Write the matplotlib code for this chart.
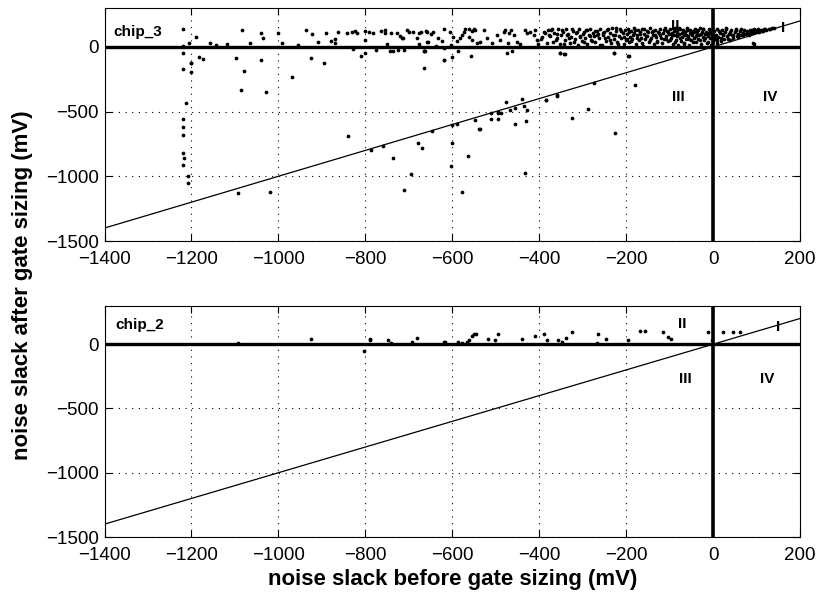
import matplotlib
matplotlib.use("Agg")
import matplotlib.pyplot as plt

plt.rcParams['font.family'] = ['Liberation Sans', 'DejaVu Sans']

# ---- data: chip_3 (top panel) ----
chip3_x = [
    # sparse, below zero (left side)
    -1219, -1202, -1219, -1202, -1212, -1219, -1220, -1220, -1220, -1216, -1220, -1207, -1209,
    -1201, -1183, -1174, -1098, -1080, -1085, -1041, -1028, -969, -926, -894, -1093, -1019,
    -839, -788, -759, -736, -679, -669, -696, -711, -646, -810, -800, -775, -744, -737, -664,
    -666, -618, -829, -724, -712, -663, -665, -587, -463,
    -601, -603, -600, -588, -577, -564, -547, -538, -512, -510, -494, -494, -536,
    -495, -488, -476, -467, -456, -455, -440, -436, -431, -427, -432, -385, -360, -324,
    -288, -273, -225, -179, -619, -601, -557, -475, -352, -340, -229, -194, -384, -360,
    -352, -342, -228, -196,
    # sparse, above zero
    -1220, -1190, -1205, -1219, -1157, -1143, -1118, -1084, -1041, -1036, -1065, -1001,
    -992, -956, -936, -922, -909, -891, -879, -870, -870, -863, -843, -831, -824, -820,
    -800, -792, -783, -800, -765, -754, -754, -741, -751, -726, -720, -716, -713, -703,
    -699, -690, -677, -680, -676, -660, -656,
    -672, -657, -645, -649, -657, -632, -623, -619, -606, -599, -638, -618, -602, -588,
    -582, -577, -574, -571, -561, -555, -548, -551, -528, -561, -555, -544, -536, -521,
    -509, -498, -490, -482, -478, -469, -465, -459, -471, -452, -444, -432, -429, -421,
    -413, -409, -406, -402, -394, -386, -379,
    # dense band
    -378, -372, -368, -365, -360, -356, -352, -349, -345, -341, -338, -334, -330, -327,
    -322, -318, -315, -311, -308, -305, -302,
    -298, -295, -292, -289, -286, -283, -280, -277, -274, -271, -268, -265, -262, -259,
    -256, -253, -250, -247, -244, -241, -238, -235, -232, -229, -226, -223, -220, -217,
    -214, -211, -208, -205, -202, -200,
    -198, -196, -193, -191, -188, -186, -183, -181, -178, -176, -173, -171, -168, -166,
    -163, -161, -158, -156, -153, -151, -148, -146, -143, -141, -138, -136, -133, -131,
    -128, -126, -123, -121, -118, -116, -113, -111, -108, -106, -103, -101,
    -98, -96, -94, -92, -90, -88, -86, -84, -82, -80, -78, -76, -74, -72, -70, -68, -66,
    -64, -62, -60, -58, -56, -54, -52, -50, -48, -46, -44, -42, -40, -38, -36, -34, -32,
    -30, -28, -26, -24, -22, -20, -18, -16, -14, -12, -10, -8, -6, -4, -2, -1,
    2, 4, 6, 8, 10, 12, 15, 18, 20, 22, 25, 28, 30, 33, 36, 38, 41, 44, 47, 50, 53, 56,
    58, 62, 65, 68, 72, 75, 78, 82, 85, 88, 92, 95, 98, 102, 106, 110, 114, 118, 122,
    128, 135, 140, 92, 94,
]
chip3_y = [
    -49, -126, -169, -195, -431, -554, -620, -682, -823, -857, -913, -998, -1049,
    -127, -79, -95, -87, -187, -333, -105, -346, -233, -90, -128, -1128, -1123,
    -690, -797, -769, -857, -746, -782, -985, -1108, -651, -74, -49, -28, -30, -30, -36,
    -164, -100, -18, -25, -25, -36, -36, -36, -31,
    -741, -923, -605, -598, -1123, -846, -562, -636, -513, -554, -503, -556, -633,
    -508, -508, -423, -485, -469, -595, -400, -456, -572, -487, -972, -410, -375, -546,
    -479, -279, -664, -295, -100, -79, -69, -49, -49, -56, -49, -69, -408, -377,
    -44, -54, -44, -74,
    138, 79, 28, 8, 28, 15, 25, 133, 105, 67, 28, 110,
    33, 18, 131, 100, 38, 110, 48, 61, 33, 115, 110, 118, 125, 110,
    121, 118, 110, 54, 123, 131, 105, 110, 23, 110, 85, 67, 67, 131,
    118, 115, 110, 67, 23, 125, 38,
    115, 113, 118, 100, 36, 67, 48, 138, 118, 79, 8, -8, 13, 46,
    67, 92, 118, 136, 136, 123, 131, 138, 131, 79, 54, 28, 41, 67,
    28, 92, 54, 118, 131, 110, 131, 92, 28, 41, 23, 131, 105, 118,
    92, 131, 54, 23, 79, 105, 131,
    95, 128, 40, 110, 70, 135, 20, 88, 118, 52, 140, 98, 30, 75,
    125, 60, 105, 12, 138, 85, 45,
    115, 70, 130, 25, 95, 140, 55, 110, 80, 35, 125, 100, 65, 138,
    15, 90, 118, 48, 132, 75, 105, 28, 142, 60, 95, 120, 40, 85,
    135, 70, 110, 20, 128, 55,
    98, 140, 35, 78, 122, 62, 108, 145, 25, 90, 130, 50, 115, 72,
    140, 10, 100, 58, 125, 85, 38, 142, 68, 112, 95, 20, 132, 78,
    48, 118, 138, 88, 30, 105, 62, 145, 80, 125, 42, 98,
    135, 70, 110, 25, 90, 145, 55, 120, 82, 12, 102, 138, 45, 75, 128, 95, 32,
    115, 60, 142, 85, 18, 108, 130, 50, 92, 120, 70, 140, 38, 100, 125, 62, 88,
    145, 22, 112, 78, 135, 52, 98, 118, 30, 85, 140, 65, 105, 15, 90, 45,
    120, 60, 95, 140, 30, 75, 110, 48, 132, 88, 60, 118, 142, 80, 100, 55, 128, 90, 70, 115, 138, 85,
    102, 125, 92, 110, 130, 100, 118, 95, 128, 112, 105, 135, 120, 128, 115, 132, 125, 138, 130,
    140, 142, 148, 31, 23,
]

# extra points filling the dense band of chip_3
chip3_dense_x = [
    -395, -388, -383, -375, -370, -362, -358, -347, -343, -336, -332, -325, -320, -313,
    -306, -300, -296, -290, -284, -278, -272, -266, -260, -254, -248, -242, -236, -230,
    -224, -218, -212, -206, -199, -194, -189, -184, -179, -174, -169, -164, -159, -154,
    -149, -144, -139, -134, -129, -124, -119, -114, -109, -104, -99, -95, -91, -87, -83,
    -79, -75, -71, -67, -63, -59, -55, -51, -47, -43, -39, -35, -31, -27, -23, -19, -15,
    -11, -7, -3,
    5, 9, 14, 19, 24, 29, 35, 40, 46, 52, 58, 64, 70, 77, 84, 90, 97, 104, 112, 120, 130,
]
chip3_dense_y = [
    60, 112, 30, 85, 140, 55, 102, 128, 20, 92, 65, 138, 40, 118,
    75, 100, 35, 130, 82, 48, 122, 95, 15, 108, 70, 135, 50, 88,
    142, 25, 120, 78, 62, 115, 45, 92, 132, 68, 100, 28, 140, 80,
    112, 55, 125, 90, 38, 105, 72, 130, 58, 118, 50, 88, 125, 35, 100,
    142, 68, 110, 22, 95, 130, 60, 105, 40, 115, 85, 128, 55, 98, 140, 70, 108,
    35, 122, 80,
    85, 50, 125, 70, 100, 135, 60, 112, 95, 128, 75, 140, 88, 122, 108, 132, 112, 140, 122, 135, 138,
]

# ---- data: chip_2 (bottom panel) ----
chip2_x = [-1094, -925, -789, -789, -803, -748, -740, -693, -680, -616, -619, -586, -578,
           -567, -561, -555, -551, -545, -518, -501, -495, -440, -409, -390, -381, -356,
           -348, -338, -325, -264, -247, -268, -195, -168, -156, -116, -103, -97, -12, -3,
           22, 47, 62]
chip2_y = [13, 44, 38, 30, -52, 31, 13, 15, 46, 21, 18, 18, 13, 18, 36, 62, 83, 83, 44, 36,
           77, 39, 62, 77, 36, 31, 18, 52, 95, 77, 39, 10, 36, 101, 101, 95, 57, 44, 98, 31,
           98, 95, 95]

xticks = [-1400, -1200, -1000, -800, -600, -400, -200, 0, 200]
yticks = [-1500, -1000, -500, 0]
diag = [-1400, 200]
regions = ['I', 'II', 'III', 'IV']

fig = plt.figure(figsize=(8.19, 5.97), dpi=100)
ax1 = fig.add_axes([0.1276, 0.5963, 0.8492, 0.3903])
ax2 = fig.add_axes([0.1276, 0.1005, 0.8492, 0.3875])

panels = [
    (ax1, chip3_x + chip3_dense_x, chip3_y + chip3_dense_y, 'chip_3', (-1380, 115),
     [(161, 146), (-87, 160), (-80, -385), (131, -385)]),
    (ax2, chip2_x, chip2_y, 'chip_2', (-1376, 147),
     [(150, 134), (-72, 161), (-64, -270), (124, -270)]),
]

for ax, xs, ys, name, npos, rpos in panels:
    ax.set_xlim(-1400, 200)
    ax.set_ylim(-1500, 300)
    ax.set_xticks(xticks)
    ax.set_yticks(yticks)
    ax.grid(True, color='black', linestyle=(0, (1, 5)), linewidth=0.8)
    ax.tick_params(direction='in', top=True, right=True, length=5, width=0.8,
                   labelsize=13.5)
    ax.tick_params(axis='x', pad=7)
    ax.tick_params(axis='y', pad=4)
    for s in ax.spines.values():
        s.set_linewidth(0.8)
    ax.plot(diag, diag, color='black', linewidth=0.9, zorder=3)
    ax.axhline(0, color='black', linewidth=2.4, zorder=3)
    ax.axvline(0, color='black', linewidth=2.6, zorder=3)
    ax.plot(xs, ys, 'o', color='black', markersize=2.7, markeredgewidth=0, zorder=4)
    ax.text(npos[0], npos[1], name, fontsize=11, fontweight='bold', va='center', ha='left')
    for lab, (tx, ty) in zip(regions, rpos):
        ax.text(tx, ty, lab, fontsize=11, fontweight='bold', ha='center', va='center')

fig.text(0.027, 0.523, 'noise slack after gate sizing (mV)', rotation=90,
         fontsize=16, fontweight='bold', ha='center', va='center')
ax2.set_xlabel('noise slack before gate sizing (mV)', fontsize=16, fontweight='bold',
               labelpad=4)

fig.savefig('out.png', dpi=100)
